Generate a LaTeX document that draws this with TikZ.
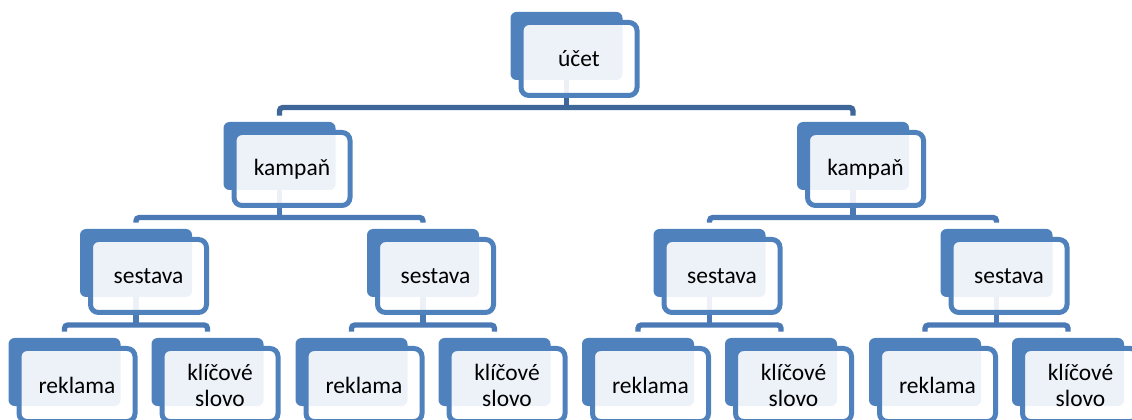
\documentclass[tikz,border=0pt]{standalone}
\usepackage{fontspec}
\setmainfont{Carlito}
\usetikzlibrary{calc}
\pgfdeclarelayer{bg}
\pgfsetlayers{bg,main}
\definecolor{boxblue}{HTML}{4F81BD}
\definecolor{linedark}{HTML}{3F6699}
\definecolor{linemid}{HTML}{4A79B6}
\tikzset{
  backbox/.style={fill=boxblue, draw=none, rounded corners=4.5pt,
    minimum width=84pt, minimum height=51pt, inner sep=0pt},
  frontbox/.style={fill=white, fill opacity=0.9, text opacity=1, draw=boxblue,
    line width=3.75pt, rounded corners=6pt, minimum width=87pt,
    minimum height=54.75pt, inner sep=0pt, text=black, align=center,
    font=\fontsize{17.6}{19.5}\selectfont},
  connA/.style={draw=linedark, line width=4pt, rounded corners=2.5pt},
  connB/.style={draw=linemid, line width=4pt, rounded corners=2.5pt},
}
\newcommand\orgnode[4]{%
  \node[backbox] (#1b) at (#2,#3+34) {};
  \node[frontbox] (#1) at (#2+12.5,#3+47) {#4};
}
\begin{document}
\begin{tikzpicture}[x=0.75pt,y=-0.75pt]
\useasboundingbox (0,0) rectangle (1132,420);
\clip (0,0) rectangle (1132,420);
% level 0
\orgnode{u}{566.5}{12}{účet}
% level 1
\orgnode{k1}{279.5}{122}{kampaň}
\orgnode{k2}{853}{122}{kampaň}
% level 2
\orgnode{s1}{136}{229}{sestava}
\orgnode{s2}{423}{229}{sestava}
\orgnode{s3}{709.5}{229}{sestava}
\orgnode{s4}{996.5}{229}{sestava}
% level 3
\orgnode{r1}{64.5}{338}{reklama}
\orgnode{w1}{207.5}{338}{klíčové\\slovo}
\orgnode{r2}{351.5}{338}{reklama}
\orgnode{w2}{494.5}{338}{klíčové\\slovo}
\orgnode{r3}{638}{338}{reklama}
\orgnode{w3}{781}{338}{klíčové\\slovo}
\orgnode{r4}{925}{338}{reklama}
\orgnode{w4}{1068}{338}{klíčové\\slovo}
\coordinate (bar0) at (0,107.5);
\coordinate (bar1) at (0,217.5);
\coordinate (bar2) at (0,325);
\begin{pgfonlayer}{bg}
  % level 0 -> 1
  \draw[connA] (ub.center) -- (ub.center |- bar0);
  \draw[connA] ($(k1b.north)+(0,-6)$) -- (k1b.north |- bar0) -- (k2b.north |- bar0) -- ($(k2b.north)+(0,-6)$);
  % level 1 -> 2
  \foreach \p/\a/\b in {k1/s1/s2, k2/s3/s4}{
    \draw[connB] (\p b.center) -- (\p b.center |- bar1);
    \draw[connB] ($(\a b.north)+(0,-6)$) -- (\a b.north |- bar1) -- (\b b.north |- bar1) -- ($(\b b.north)+(0,-6)$);
  }
  % level 2 -> 3
  \foreach \p/\a/\b in {s1/r1/w1, s2/r2/w2, s3/r3/w3, s4/r4/w4}{
    \draw[connB] (\p b.center) -- (\p b.center |- bar2);
    \draw[connB] ($(\a b.north)+(0,-6)$) -- (\a b.north |- bar2) -- (\b b.north |- bar2) -- ($(\b b.north)+(0,-6)$);
  }
\end{pgfonlayer}
\end{tikzpicture}
\end{document}
